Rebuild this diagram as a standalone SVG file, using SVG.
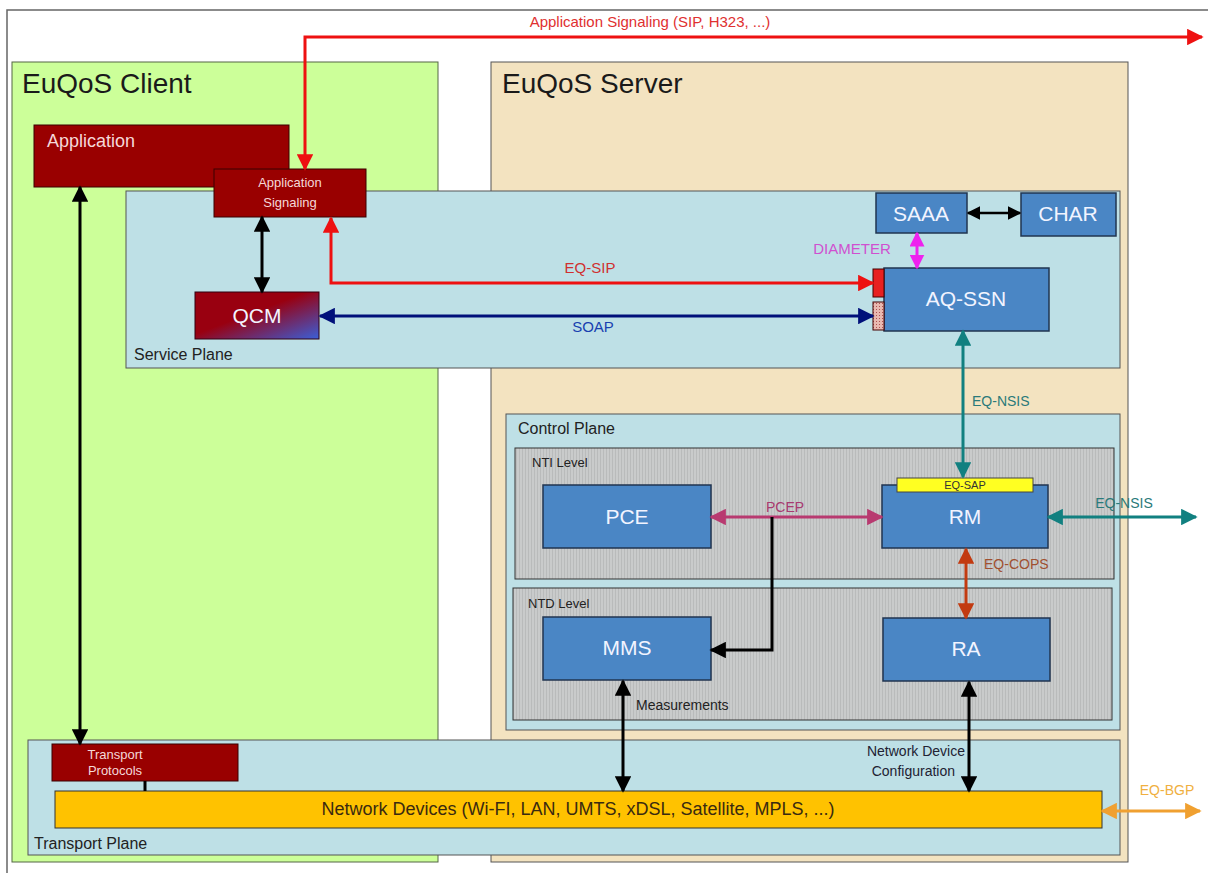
<svg xmlns="http://www.w3.org/2000/svg" width="1216" height="873" viewBox="0 0 1216 873">
<defs>
<style>
text{font-family:"Liberation Sans",Arial,sans-serif}
.title{font-size:28px;fill:#1a1a1a}
.plane{font-size:16px;fill:#222}
.lvl{font-size:13px;fill:#222}
.node{fill:#4A86C5;stroke:#203550;stroke-width:1.5}
.nt{font-size:21px;fill:#f2f4ff;text-anchor:middle}
.red{fill:#990000;stroke:#3a0000;stroke-width:1}
.rt{font-size:13px;fill:#f5d8d8;text-anchor:middle}
.ln{fill:none;stroke-width:3}
</style>
<pattern id="stripe" width="3" height="10" patternUnits="userSpaceOnUse">
<rect width="3" height="10" fill="#C9CBCB"/>
<rect width="1" height="10" fill="#B9BBBB"/>
</pattern>
<linearGradient id="qcm" x1="0" y1="0" x2="1" y2="1">
<stop offset="0.45" stop-color="#990010"/>
<stop offset="1" stop-color="#3A5FD8"/>
</linearGradient>
<pattern id="dots" width="3" height="3" patternUnits="userSpaceOnUse">
<rect width="3" height="3" fill="#E8B8B0"/>
<rect width="1" height="1" fill="#B05050"/>
</pattern>
<marker id="aBlack" viewBox="0 0 10 10" refX="9" refY="5" markerWidth="5.5" markerHeight="5.5" orient="auto-start-reverse"><path d="M0,0 L10,5 L0,10 z" fill="#000"/></marker>
<marker id="aRed" viewBox="0 0 10 10" refX="9" refY="5" markerWidth="5.5" markerHeight="5.5" orient="auto-start-reverse"><path d="M0,0 L10,5 L0,10 z" fill="#EE1111"/></marker>
<marker id="aRedBig" viewBox="0 0 10 10" refX="9" refY="5" markerWidth="8" markerHeight="5.5" orient="auto-start-reverse"><path d="M0,0 L10,5 L0,10 z" fill="#EE1111"/></marker>
<marker id="aBlue" viewBox="0 0 10 10" refX="9" refY="5" markerWidth="5.5" markerHeight="5.5" orient="auto-start-reverse"><path d="M0,0 L10,5 L0,10 z" fill="#00107A"/></marker>
<marker id="aMag" viewBox="0 0 10 10" refX="9" refY="5" markerWidth="5" markerHeight="5" orient="auto-start-reverse"><path d="M0,0 L10,5 L0,10 z" fill="#EE22EE"/></marker>
<marker id="aTeal" viewBox="0 0 10 10" refX="9" refY="5" markerWidth="5.5" markerHeight="5.5" orient="auto-start-reverse"><path d="M0,0 L10,5 L0,10 z" fill="#118080"/></marker>
<marker id="aPcep" viewBox="0 0 10 10" refX="9" refY="5" markerWidth="5.5" markerHeight="5.5" orient="auto-start-reverse"><path d="M0,0 L10,5 L0,10 z" fill="#B83A70"/></marker>
<marker id="aCops" viewBox="0 0 10 10" refX="9" refY="5" markerWidth="5.5" markerHeight="5.5" orient="auto-start-reverse"><path d="M0,0 L10,5 L0,10 z" fill="#C23A10"/></marker>
<marker id="aBgp" viewBox="0 0 10 10" refX="9" refY="5" markerWidth="5.5" markerHeight="5.5" orient="auto-start-reverse"><path d="M0,0 L10,5 L0,10 z" fill="#F0A030"/></marker>
</defs>
<rect width="1216" height="873" fill="#fff"/>
<path d="M7,873 L7,10 L1208,10" fill="none" stroke="#666" stroke-width="1.5"/>

<g id="client">
<rect x="12" y="62" width="426" height="800" fill="#CCFF99" stroke="#556644" stroke-width="1"/>
<text x="22" y="93" class="title">EuQoS Client</text>
</g>
<g id="server">
<rect x="491" y="62" width="637" height="800" fill="#F3E3C0" stroke="#555" stroke-width="1"/>
<text x="502" y="93" class="title">EuQoS Server</text>
</g>
<g id="application">
<rect x="34" y="125" width="255" height="62" class="red"/>
<text x="47" y="147" font-size="18" fill="#f5d8d8">Application</text>
</g>
<g id="service-plane">
<rect x="126" y="191" width="994" height="177" fill="#BEE0E6" stroke="#555" stroke-width="1"/>
<text x="134" y="360" class="plane">Service Plane</text>
</g>
<g id="app-signaling">
<rect x="214" y="169" width="152" height="48" class="red"/>
<text x="290" y="187" class="rt">Application</text>
<text x="290" y="207" class="rt">Signaling</text>
</g>
<g id="qcm">
<rect x="195" y="292" width="124" height="47" fill="url(#qcm)" stroke="#300010" stroke-width="1"/>
<text x="257" y="323" class="nt">QCM</text>
</g>
<g id="saaa">
<rect x="876" y="193" width="91" height="40" class="node"/>
<text x="921" y="221" class="nt">SAAA</text>
</g>
<g id="char">
<rect x="1021" y="193" width="95" height="43" class="node"/>
<text x="1068" y="221" class="nt">CHAR</text>
</g>
<g id="aq-ssn">
<rect x="884" y="268" width="165" height="63" class="node"/>
<text x="966" y="306" class="nt">AQ-SSN</text>
<rect x="873" y="269" width="11" height="28" fill="#E82020" stroke="#400" stroke-width="1"/>
<rect x="873" y="302" width="11" height="28" fill="url(#dots)" stroke="#400" stroke-width="1"/>
</g>

<g id="control-plane">
<rect x="506" y="414" width="614" height="316" fill="#BEE0E6" stroke="#555" stroke-width="1"/>
<text x="518" y="434" class="plane">Control Plane</text>
</g>
<g id="nti-level">
<rect x="515" y="448" width="599" height="131" fill="url(#stripe)" stroke="#333" stroke-width="1"/>
<text x="532" y="467" class="lvl">NTI Level</text>
</g>
<g id="ntd-level">
<rect x="513" y="588" width="599" height="132" fill="url(#stripe)" stroke="#333" stroke-width="1"/>
<text x="528" y="608" class="lvl">NTD Level</text>
</g>
<g id="pce">
<rect x="543" y="485" width="168" height="63" class="node"/>
<text x="627" y="524" class="nt">PCE</text>
</g>
<g id="rm">
<rect x="882" y="485" width="166" height="63" class="node"/>
<text x="965" y="524" class="nt">RM</text>
<rect x="897" y="478" width="136" height="14" fill="#FFFF22" stroke="#444" stroke-width="1"/>
<text x="965" y="489" font-size="11" fill="#333" text-anchor="middle">EQ-SAP</text>
</g>
<g id="mms">
<rect x="543" y="617" width="168" height="63" class="node"/>
<text x="627" y="655" class="nt">MMS</text>
</g>
<g id="ra">
<rect x="883" y="618" width="167" height="63" class="node"/>
<text x="966" y="656" class="nt">RA</text>
</g>

<g id="transport-plane">
<rect x="28" y="740" width="1092" height="115" fill="#BEE0E6" stroke="#555" stroke-width="1"/>
<text x="34" y="849" class="plane">Transport Plane</text>
</g>
<g id="transport-protocols">
<rect x="52" y="744" width="186" height="37" class="red"/>
<text x="115" y="759" class="rt" font-size="12">Transport</text>
<text x="115" y="775" class="rt" font-size="12">Protocols</text>
</g>
<g id="network-devices">
<rect x="55" y="791" width="1047" height="37" fill="#FFC200" stroke="#333" stroke-width="1"/>
<text x="578" y="815" font-size="18" fill="#3a2a10" text-anchor="middle">Network Devices (Wi-FI, LAN, UMTS, xDSL, Satellite, MPLS, ...)</text>
</g>

<g id="connectors">
<path d="M305,169 L305,37 L1202,37" class="ln" stroke="#EE1111" marker-start="url(#aRed)" marker-end="url(#aRedBig)"/>
<text x="650" y="27" font-size="15" fill="#E03030" text-anchor="middle">Application Signaling (SIP, H323, ...)</text>
<line x1="80" y1="187" x2="80" y2="744" class="ln" stroke="#000" marker-start="url(#aBlack)" marker-end="url(#aBlack)"/>
<line x1="262" y1="217" x2="262" y2="292" class="ln" stroke="#000" marker-start="url(#aBlack)" marker-end="url(#aBlack)"/>
<path d="M331,218 L331,283 L873,283" class="ln" stroke="#EE1111" marker-start="url(#aRed)" marker-end="url(#aRed)"/>
<text x="590" y="273" font-size="15" fill="#D03030" text-anchor="middle">EQ-SIP</text>
<line x1="320" y1="316" x2="873" y2="316" class="ln" stroke="#00107A" marker-start="url(#aBlue)" marker-end="url(#aBlue)"/>
<text x="593" y="332" font-size="15" fill="#1840B0" text-anchor="middle">SOAP</text>
<line x1="968" y1="213" x2="1020" y2="213" stroke-width="2.5" stroke="#000" marker-start="url(#aBlack)" marker-end="url(#aBlack)"/>
<line x1="917" y1="233" x2="917" y2="268" class="ln" stroke="#EE22EE" marker-start="url(#aMag)" marker-end="url(#aMag)"/>
<text x="852" y="254" font-size="15" fill="#D050D0" text-anchor="middle">DIAMETER</text>
<line x1="963" y1="331" x2="963" y2="477" class="ln" stroke="#118080" marker-start="url(#aTeal)" marker-end="url(#aTeal)"/>
<text x="972" y="406" font-size="14" fill="#2A7A7A">EQ-NSIS</text>
<line x1="711" y1="517" x2="882" y2="517" class="ln" stroke="#B83A70" marker-start="url(#aPcep)" marker-end="url(#aPcep)"/>
<text x="785" y="512" font-size="14" fill="#A83A70" text-anchor="middle">PCEP</text>
<path d="M772,517 L772,650 L711,650" class="ln" stroke="#000" marker-end="url(#aBlack)"/>
<line x1="1048" y1="517" x2="1196" y2="517" class="ln" stroke="#118080" marker-start="url(#aTeal)" marker-end="url(#aTeal)"/>
<text x="1124" y="508" font-size="14" fill="#2A7A7A" text-anchor="middle">EQ-NSIS</text>
<line x1="966" y1="549" x2="966" y2="618" class="ln" stroke="#C23A10" marker-start="url(#aCops)" marker-end="url(#aCops)"/>
<text x="984" y="569" font-size="14" fill="#A05030">EQ-COPS</text>
<line x1="623" y1="681" x2="623" y2="791" class="ln" stroke="#000" marker-start="url(#aBlack)" marker-end="url(#aBlack)"/>
<text x="636" y="710" font-size="14" fill="#222">Measurements</text>
<line x1="969" y1="682" x2="969" y2="791" class="ln" stroke="#000" marker-start="url(#aBlack)" marker-end="url(#aBlack)"/>
<text x="965" y="756" font-size="14" fill="#223" text-anchor="end">Network Device</text>
<text x="955" y="776" font-size="14" fill="#223" text-anchor="end">Configuration</text>
<line x1="145" y1="781" x2="145" y2="791" stroke="#000" stroke-width="3"/>
<line x1="1102" y1="811" x2="1200" y2="811" class="ln" stroke="#F0A030" marker-start="url(#aBgp)" marker-end="url(#aBgp)"/>
<text x="1167" y="795" font-size="14" fill="#F0B040" text-anchor="middle">EQ-BGP</text>
</g>
</svg>
